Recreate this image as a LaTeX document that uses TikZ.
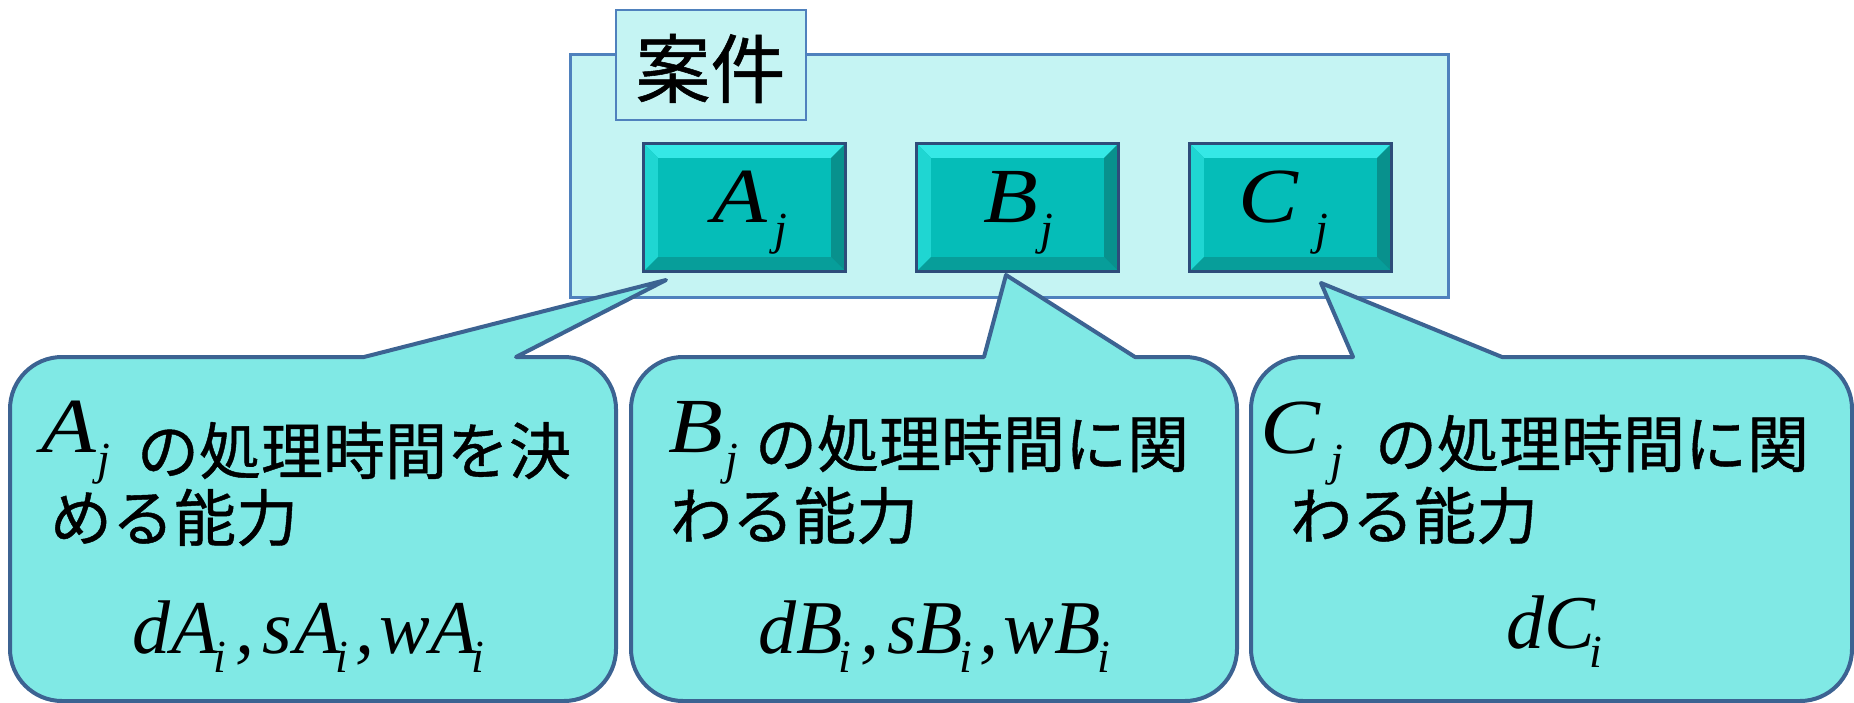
\documentclass[tikz,border=0pt]{standalone}
\usepackage{fontspec}
\usepackage{graphicx}
\setmainfont{Liberation Serif}
\newfontfamily\jp{Noto Sans CJK JP}[FakeBold=0.7]
\usetikzlibrary{calc}
\definecolor{casefill}{HTML}{C5F4F3}
\definecolor{caseline}{HTML}{4F81BD}
\definecolor{callfill}{HTML}{80E9E5}
\definecolor{callline}{HTML}{3C6392}
\definecolor{face}{HTML}{05BDB8}
\definecolor{bvtop}{HTML}{35E8E6}
\definecolor{bvleft}{HTML}{1FD6D2}
\definecolor{bvbot}{HTML}{079E9A}
\definecolor{bvright}{HTML}{08918D}
\definecolor{boxline}{HTML}{2E4C7A}
% wide italic letters for the titles
\newcommand\mi[1]{\scalebox{1.15}[1]{\fontsize{78}{78}\selectfont\itshape #1}}
% plain italic letters for the formula lines
\newcommand\mf[1]{{\fontsize{76}{76}\selectfont\itshape #1}}
\newcommand\subj[2][0]{\kern#1pt\raisebox{-22pt}{\fontsize{46}{46}\selectfont\itshape #2}}
\newcommand\subx[2][0]{\kern#1pt\raisebox{-19pt}{\fontsize{46}{46}\selectfont\itshape #2}}
\def\rr{52}
\newcommand\callout[8]{%
\draw[callout] (#1+\rr,#3) -- (#5,#3) -- (#7,#8) -- (#6,#3) -- (#2-\rr,#3)
  arc[start angle=-90,end angle=0,radius=\rr] -- (#2,#4-\rr)
  arc[start angle=0,end angle=90,radius=\rr] -- (#1+\rr,#4)
  arc[start angle=90,end angle=180,radius=\rr] -- (#1,#3+\rr)
  arc[start angle=180,end angle=270,radius=\rr] -- cycle;}
\tikzset{
 casebox/.style={fill=casefill, draw=caseline, line width=3pt, inner sep=0pt},
 tagbox/.style={fill=casefill, draw=caseline, line width=2pt, inner sep=0pt},
 callout/.style={fill=callfill, draw=callline, line width=4pt, line join=round},
 bevelbox/.style={fill=face, inner sep=0pt, minimum width=201pt, minimum height=127pt},
 txt/.style={inner sep=0pt, outer sep=0pt, anchor=base west},
 jtxt/.style={inner sep=0pt, outer sep=0pt, anchor=west, font=\jp\fontsize{62}{62}\selectfont},
}
\begin{document}
\begin{tikzpicture}[x=1pt,y=-1pt]
\useasboundingbox (0,0) rectangle (1854,703);
\fill[white] (0,0) rectangle (1854,703);
% case box
\node[casebox, minimum width=878pt, minimum height=242pt] (case) at (1009,176) {};
\node[tagbox, minimum width=190pt, minimum height=110pt] (tag) at (711,65) {};
\node[inner sep=0pt, font=\jp\fontsize{75}{75}\selectfont] (tagtext) at (710.5,68.5) {案件};
% bevel boxes
\node[bevelbox] (A) at (744.5,207.5) {};
\node[bevelbox] (B) at (1017.5,207.5) {};
\node[bevelbox] (C) at (1290.5,207.5) {};
\foreach \n in {A,B,C} {
 \fill[bvtop] (\n.north west) -- (\n.north east) -- ($(\n.north east)+(-14,14)$) -- ($(\n.north west)+(14,14)$) -- cycle;
 \fill[bvleft] (\n.north west) -- ($(\n.north west)+(14,14)$) -- ($(\n.south west)+(14,-14)$) -- (\n.south west) -- cycle;
 \fill[bvbot] (\n.south west) -- ($(\n.south west)+(14,-14)$) -- ($(\n.south east)+(-14,-14)$) -- (\n.south east) -- cycle;
 \fill[bvright] (\n.north east) -- (\n.south east) -- ($(\n.south east)+(-14,-14)$) -- ($(\n.north east)+(-14,14)$) -- cycle;
 \draw[boxline, line width=3pt] (\n.north west) rectangle (\n.south east);
}
\node[txt] (Alab) at (712,223) {\mi{A}\subj[8]{j}};
\node[txt] (Blab) at (983,223) {\mi{B}\subj[3]{j}};
\node[txt] (Clab) at (1238,223) {\mi{C}\subj[18]{j}};
% callouts
\coordinate (tipA) at (666,280);
\coordinate (tipB) at (1006,275);
\coordinate (tipC) at (1321,283);
\callout{10}{616}{357}{701}{364}{516}{666}{280}
\callout{631}{1237}{357}{701}{984}{1135}{1006}{275}
\callout{1251}{1852}{357}{701}{1353}{1502}{1321}{283}
% callout 1 text
\node[txt] (a1) at (41,452) {\mi{A}\subj[2]{j}};
\node[jtxt] (a2) at (137,450.5) {の処理時間を決};
\node[jtxt] (a3) at (50,517.5) {める能力};
\node[txt] (a4) at (132,653) {\mf{d\kern2pt A}\subx[-5]{i}\kern9pt\mf{,}\kern8pt\mf{s\kern3pt A}\subx[-6]{i}\kern8pt\mf{,}\kern5pt\mf{wA}\subx[-6]{i}};
% callout 2 text
\node[txt] (b1) at (668,452) {\mi{B}\subj[3]{j}};
\node[jtxt] (b2) at (755,443.5) {の処理時間に関};
\node[jtxt] (b3) at (670,515.5) {わる能力};
\node[txt] (b4) at (758,653) {\mf{dB}\subx[-4]{i}\kern9pt\mf{,}\kern8pt\mf{sB}\subx[-4]{i}\kern8pt\mf{,}\kern5pt\mf{wB}\subx[-4]{i}};
% callout 3 text
\node[txt] (c1) at (1260,453) {\mi{C}\subj[11]{j}};
\node[jtxt] (c2) at (1375,443.5) {の処理時間に関};
\node[jtxt] (c3) at (1290,515.5) {わる能力};
\node[txt] (c4) at (1506,648) {\mf{dC}\subx[-5]{i}};
\end{tikzpicture}
\end{document}
